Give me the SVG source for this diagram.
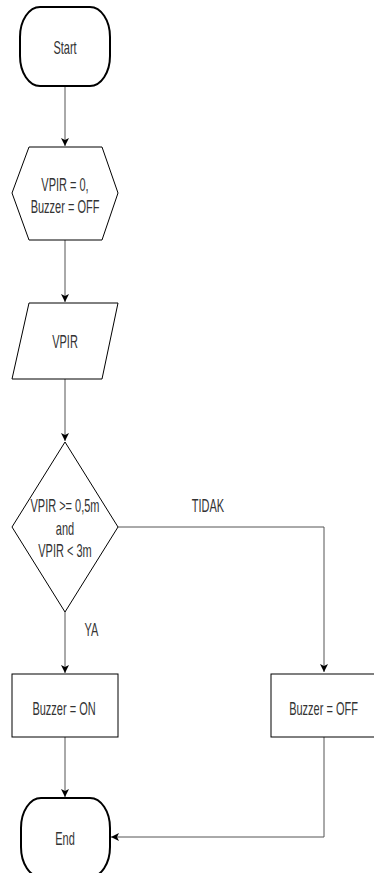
<svg xmlns="http://www.w3.org/2000/svg" width="374" height="873" viewBox="0 0 374 873">
<defs>
<style>
.shape{fill:#fff;stroke:#000;stroke-width:1}
.term{fill:#fff;stroke:#000;stroke-width:2}
.conn{fill:none;stroke:#555;stroke-width:1}
.t{font-family:"Liberation Sans",Arial,sans-serif;font-size:11px;fill:#333;text-anchor:middle}
</style>
<marker id="arr" markerWidth="9" markerHeight="8" refX="8" refY="4" orient="auto" markerUnits="userSpaceOnUse">
<path d="M0,0 L8,4 L0,8 L2,4 z" fill="#000"/>
</marker>
</defs>
<rect width="374" height="873" fill="#fff"/>
<g id="connectors">
<path class="conn" d="M65,86 L65,146" marker-end="url(#arr)"/>
<path class="conn" d="M65,240 L65,302" marker-end="url(#arr)"/>
<path class="conn" d="M65,379 L65,441" marker-end="url(#arr)"/>
<path class="conn" d="M65,612 L65,673" marker-end="url(#arr)"/>
<path class="conn" d="M118,527 L324,527 L324,672" marker-end="url(#arr)"/>
<path class="conn" d="M65,737 L65,797" marker-end="url(#arr)"/>
<path class="conn" d="M324,737 L324,837 L111,837" marker-end="url(#arr)"/>
<text class="t" transform="translate(208,511.7) scale(1,1.65)">TIDAK</text>
<text class="t" transform="translate(91.5,636) scale(1,1.65)">YA</text>
</g>
<g id="start">
<rect class="term" x="20" y="7" width="90" height="79" rx="20" ry="30"/>
<text class="t" transform="translate(65,54) scale(1,1.65)">Start</text>
</g>
<g id="init">
<polygon class="shape" points="12,193 29,147 102,147 118,193 102,240 29,240"/>
<text class="t" transform="translate(65,190.7) scale(1,1.65)">VPIR = 0,</text>
<text class="t" transform="translate(65,213.3) scale(1,1.65)">Buzzer = OFF</text>
</g>
<g id="input">
<polygon class="shape" points="29,303 118,303 102,379 12,379"/>
<text class="t" transform="translate(65,348) scale(1,1.65)">VPIR</text>
</g>
<g id="decision">
<polygon class="shape" points="65,442 118,527 65,612 12,527"/>
<text class="t" transform="translate(65,512) scale(1,1.65)">VPIR &gt;= 0,5m</text>
<text class="t" transform="translate(65,535) scale(1,1.65)">and</text>
<text class="t" transform="translate(65,556.7) scale(1,1.65)">VPIR &lt; 3m</text>
</g>
<g id="buzzer-on">
<rect class="shape" x="12" y="674" width="106" height="63"/>
<text class="t" transform="translate(64,715) scale(1,1.65)">Buzzer = ON</text>
</g>
<g id="buzzer-off">
<rect class="shape" x="271" y="674" width="106" height="63"/>
<text class="t" transform="translate(323.5,715) scale(1,1.65)">Buzzer = OFF</text>
</g>
<g id="end">
<rect class="term" x="21" y="798" width="89" height="79" rx="20" ry="30"/>
<text class="t" transform="translate(65,845) scale(1,1.65)">End</text>
</g>
</svg>
